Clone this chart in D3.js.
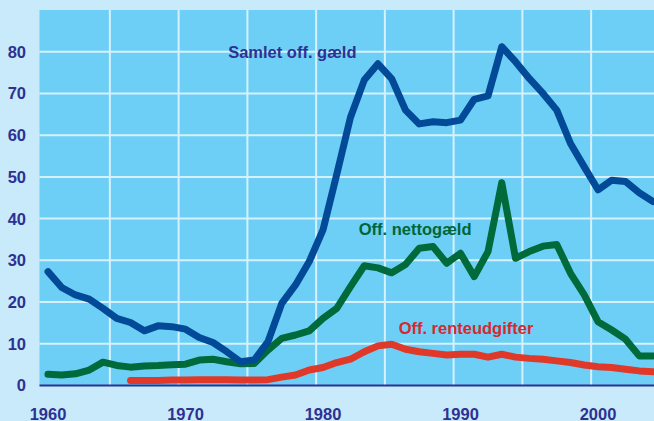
<!DOCTYPE html>
<html><head><meta charset="utf-8">
<script src="https://cdn.jsdelivr.net/npm/d3@7"></script>
<style>
html,body{margin:0;padding:0;background:#c8eafb;}
svg{display:block;}
text{font-family:"Liberation Sans",Arial,sans-serif;font-weight:bold;}
</style></head>
<body>
<svg id="chart" width="654" height="421"></svg>
<script>
const years = d3.range(1960, 2005);
const samletGaeld = [27.3,23.5,21.7,20.7,18.5,16.1,15.1,13.1,14.3,14.1,13.5,11.5,10.3,8.1,5.7,6.1,10.5,19.7,24.1,29.7,37.3,50.6,64.3,73.2,77.1,73.5,66.0,62.7,63.2,63.0,63.6,68.6,69.4,81.2,77.6,73.6,70.0,66.0,58.0,52.4,46.9,49.2,48.9,46.2,44.1];
const nettoGaeld = [2.7,2.5,2.8,3.7,5.6,4.8,4.4,4.7,4.8,5.0,5.1,6.1,6.3,5.7,5.2,5.3,8.5,11.3,12.1,13.1,16.1,18.5,23.7,28.7,28.2,27.0,29.0,32.9,33.3,29.3,31.7,26.1,32.1,48.6,30.5,32.1,33.4,33.8,26.9,21.7,15.3,13.3,11.1,7.1,7.1];
const renteYears = d3.range(1966, 2005);
const renteudgifter = [1.2,1.2,1.2,1.3,1.3,1.4,1.4,1.4,1.3,1.3,1.4,2.0,2.5,3.7,4.3,5.5,6.3,8.1,9.5,9.9,8.7,8.1,7.7,7.3,7.5,7.5,6.8,7.5,6.8,6.5,6.3,5.9,5.5,4.9,4.5,4.3,3.9,3.5,3.3];
const yTicks = [0,10,20,30,40,50,60,70,80];
const xTickLabels = [1960,1970,1980,1990,2000];
const xGridYears = [1964.5,1969.5,1974.5,1979.5,1984.5,1989.5,1994.5,1999.5];
const seriesNames = ["Samlet off. gæld","Off. nettogæld","Off. renteudgifter"];
const labelAnchors = [[1973.1,78.4],[1982.6,36.1],[1985.5,12.3]];

const svg = d3.select("#chart");
const x = d3.scaleLinear().domain([1960, 2004]).range([48, 653]);
const y = d3.scaleLinear().domain([0, 90]).range([385.5, 10]);
const plotL = 39.5, plotR = 654;

svg.append("rect").attr("x",0).attr("y",0).attr("width",654).attr("height",421).attr("fill","#c8eafb");
svg.append("rect").attr("x",plotL).attr("y",y(90)).attr("width",plotR-plotL).attr("height",y(0)-y(90)).attr("fill","#6dcff6");

const grid = svg.append("g").attr("stroke","#d6f1fd").attr("stroke-width",2);
grid.selectAll("line.h").data(yTicks.filter(d=>d>0)).join("line")
  .attr("x1",plotL).attr("x2",plotR).attr("y1",d=>y(d)).attr("y2",d=>y(d));
grid.selectAll("line.v").data(xGridYears).join("line")
  .attr("x1",d=>x(d)).attr("x2",d=>x(d)).attr("y1",y(90)).attr("y2",y(0));

svg.append("g").selectAll("text").data(yTicks).join("text")
  .attr("x",26).attr("y",d=>y(d)).attr("dy","0.36em").attr("text-anchor","end")
  .attr("fill","#2e3192").attr("font-size","16.5px").text(d=>d);

svg.append("g").selectAll("text").data(xTickLabels).join("text")
  .attr("x",d=>x(d)).attr("y",420).attr("text-anchor","middle")
  .attr("fill","#2e3192").attr("font-size","16.5px").text(d=>d);

const line = d3.line().x(d=>x(d[0])).y(d=>y(d[1]));
const series = [
  {data: years.map((yr,i)=>[yr, samletGaeld[i]]), color:"#024a97"},
  {data: years.map((yr,i)=>[yr, nettoGaeld[i]]), color:"#006a3b"},
  {data: renteYears.map((yr,i)=>[yr, renteudgifter[i]]), color:"#e0392a"}
];
const clip = svg.append("clipPath").attr("id","pc").append("rect")
  .attr("x",plotL).attr("y",y(90)).attr("width",plotR-plotL).attr("height",y(0)-y(90)+4);
const lines = svg.append("g").attr("clip-path","url(#pc)");
series.slice().reverse().forEach(s=>{
  lines.append("path").attr("d",line(s.data)).attr("fill","none")
    .attr("stroke",s.color).attr("stroke-width",7)
    .attr("stroke-linejoin","round").attr("stroke-linecap","round");
});

svg.append("line").attr("x1",plotL).attr("x2",plotR).attr("y1",y(0)).attr("y2",y(0))
  .attr("stroke","#2e3192").attr("stroke-width",2);

const labelColors = ["#2e3192","#006638","#d7282f"];
svg.append("g").selectAll("text").data(seriesNames).join("text")
  .attr("x",(d,i)=>x(labelAnchors[i][0])).attr("y",(d,i)=>y(labelAnchors[i][1]))
  .attr("fill",(d,i)=>labelColors[i]).attr("font-size","16.5px").text(d=>d);
</script>
</body></html>
